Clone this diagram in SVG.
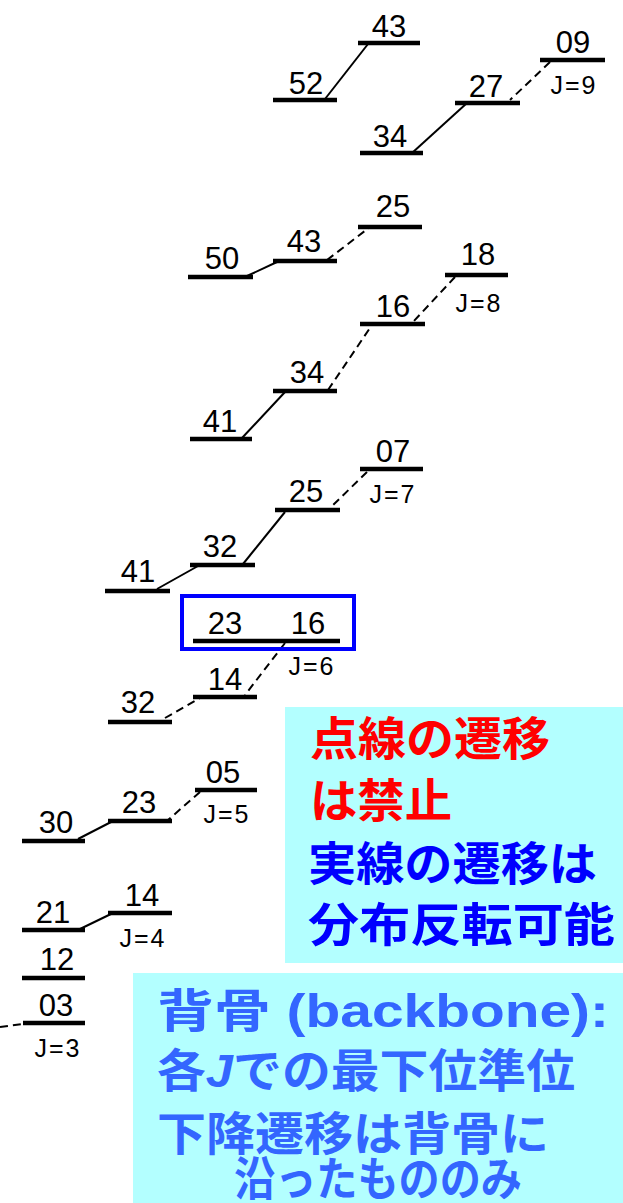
<svg xmlns="http://www.w3.org/2000/svg" width="623" height="1203" viewBox="0 0 623 1203">
<style>
.lv{stroke:#000;stroke-width:4.5;stroke-linecap:butt}
.num{font-family:"Liberation Sans",Arial,sans-serif;font-size:31px;fill:#000;text-anchor:middle}
.jl{font-family:"Liberation Sans",Arial,sans-serif;font-size:25px;fill:#000;text-anchor:middle;letter-spacing:2px}
.sol{stroke:#000;stroke-width:2;fill:none}
.dash{stroke:#000;stroke-width:2;fill:none;stroke-dasharray:8 5}
.note{font-family:"Noto Sans CJK JP","Liberation Sans",sans-serif;font-weight:bold;font-size:46px}
.bb{font-family:"Liberation Sans","Noto Sans CJK JP",sans-serif;font-weight:bold;font-size:46px;fill:#3366ff}
</style>
<rect width="623" height="1203" fill="#fff"/>
<g id="connectors">
<line class="sol" x1="325" y1="99" x2="368" y2="44"/>
<line class="sol" x1="412" y1="153" x2="467" y2="103"/>
<line class="sol" x1="247" y1="276" x2="277" y2="262"/>
<line class="sol" x1="242" y1="438" x2="285" y2="392"/>
<line class="sol" x1="157" y1="589" x2="198" y2="566"/>
<line class="sol" x1="243" y1="564" x2="285" y2="512"/>
<line class="sol" x1="78" y1="839" x2="113" y2="821"/>
<line class="sol" x1="80" y1="929" x2="113" y2="913"/>
<line class="dash" x1="550" y1="62" x2="510" y2="100"/>
<line class="dash" x1="327" y1="260" x2="370" y2="227"/>
<line class="dash" x1="455" y1="277" x2="413" y2="322"/>
<line class="dash" x1="328" y1="390" x2="372" y2="325"/>
<line class="dash" x1="367" y1="472" x2="330" y2="508"/>
<line class="dash" x1="285" y1="643" x2="245" y2="695"/>
<line class="dash" x1="165" y1="718" x2="200" y2="698"/>
<line class="dash" x1="200" y1="792" x2="168" y2="820"/>
<line class="dash" x1="0" y1="1027" x2="23" y2="1024"/>
</g>
<g id="J9">
<g id="L43a"><line class="lv" x1="358" y1="43" x2="420" y2="43"/><text class="num" x="389" y="37">43</text></g>
<g id="L52"><line class="lv" x1="273" y1="100" x2="337" y2="100"/><text class="num" x="306" y="94">52</text></g>
<g id="L09"><line class="lv" x1="540" y1="60" x2="605" y2="60"/><text class="num" x="573" y="53">09</text><text class="jl" x="574" y="94">J=9</text></g>
<g id="L27"><line class="lv" x1="455" y1="103" x2="520" y2="103"/><text class="num" x="486" y="97">27</text></g>
<g id="L34a"><line class="lv" x1="360" y1="153" x2="423" y2="153"/><text class="num" x="390" y="147">34</text></g>
</g>
<g id="J8">
<g id="L25a"><line class="lv" x1="358" y1="227" x2="422" y2="227"/><text class="num" x="393" y="217">25</text></g>
<g id="L43b"><line class="lv" x1="273" y1="261" x2="337" y2="261"/><text class="num" x="304" y="252">43</text></g>
<g id="L50"><line class="lv" x1="188" y1="277" x2="253" y2="277"/><text class="num" x="222" y="269">50</text></g>
<g id="L18"><line class="lv" x1="445" y1="275" x2="508" y2="275"/><text class="num" x="478" y="265">18</text><text class="jl" x="479" y="312">J=8</text></g>
<g id="L16a"><line class="lv" x1="360" y1="324" x2="425" y2="324"/><text class="num" x="393" y="317">16</text></g>
<g id="L34b"><line class="lv" x1="273" y1="391" x2="337" y2="391"/><text class="num" x="307" y="383">34</text></g>
<g id="L41a"><line class="lv" x1="190" y1="439" x2="252" y2="439"/><text class="num" x="220" y="432">41</text></g>
</g>
<g id="J7">
<g id="L07"><line class="lv" x1="360" y1="469" x2="423" y2="469"/><text class="num" x="393" y="462">07</text><text class="jl" x="393" y="503">J=7</text></g>
<g id="L25b"><line class="lv" x1="275" y1="510" x2="340" y2="510"/><text class="num" x="306" y="502">25</text></g>
<g id="L32a"><line class="lv" x1="190" y1="565" x2="255" y2="565"/><text class="num" x="220" y="557">32</text></g>
<g id="L41b"><line class="lv" x1="105" y1="591" x2="170" y2="591"/><text class="num" x="138" y="582">41</text></g>
</g>
<g id="J6">
<g id="L23a"><line class="lv" x1="193" y1="641" x2="276" y2="641"/><text class="num" x="225" y="634">23</text></g>
<g id="L16b"><line class="lv" x1="276" y1="641" x2="340" y2="641"/><text class="num" x="308" y="634">16</text><text class="jl" x="312" y="675">J=6</text></g>
<g id="L14a"><line class="lv" x1="193" y1="697" x2="257" y2="697"/><text class="num" x="225" y="690">14</text></g>
<g id="L32b"><line class="lv" x1="108" y1="722" x2="172" y2="722"/><text class="num" x="138" y="713">32</text></g>
<rect id="highlight" x="182" y="596" width="172" height="53" fill="none" stroke="#0000ff" stroke-width="4"/>
</g>
<g id="J5">
<g id="L05"><line class="lv" x1="195" y1="790" x2="257" y2="790"/><text class="num" x="223" y="783">05</text><text class="jl" x="227" y="823">J=5</text></g>
<g id="L23b"><line class="lv" x1="108" y1="821" x2="172" y2="821"/><text class="num" x="139" y="813">23</text></g>
<g id="L30"><line class="lv" x1="22" y1="841" x2="85" y2="841"/><text class="num" x="56" y="833">30</text></g>
</g>
<g id="J4">
<g id="L14b"><line class="lv" x1="108" y1="913" x2="172" y2="913"/><text class="num" x="142" y="906">14</text><text class="jl" x="143" y="947">J=4</text></g>
<g id="L21"><line class="lv" x1="22" y1="930" x2="85" y2="930"/><text class="num" x="53" y="923">21</text></g>
<g id="L12"><line class="lv" x1="22" y1="978" x2="85" y2="978"/><text class="num" x="57" y="970">12</text></g>
</g>
<g id="J3">
<g id="L03"><line class="lv" x1="23" y1="1023" x2="85" y2="1023"/><text class="num" x="56" y="1016">03</text><text class="jl" x="58" y="1057">J=3</text></g>
</g>
<g id="note1">
<rect x="285" y="707" width="338" height="256" fill="#b3ffff"/>
<text class="note" x="310" y="755" fill="#ff0000" textLength="240" lengthAdjust="spacingAndGlyphs">点線の遷移</text>
<text class="note" x="310" y="817" fill="#ff0000" textLength="142" lengthAdjust="spacingAndGlyphs">は禁止</text>
<text class="note" x="308" y="880" fill="#0000ff" textLength="289" lengthAdjust="spacingAndGlyphs">実線の遷移は</text>
<text class="note" x="308" y="941" fill="#0000ff" textLength="307" lengthAdjust="spacingAndGlyphs">分布反転可能</text>
</g>
<g id="note2">
<rect x="133" y="973" width="490" height="230" fill="#b3ffff"/>
<text class="bb" x="157" y="1027" textLength="452" lengthAdjust="spacingAndGlyphs">背骨 (backbone):</text>
<text class="bb" x="157" y="1087" textLength="418" lengthAdjust="spacingAndGlyphs">各<tspan font-style="italic">J</tspan>での最下位準位</text>
<text class="bb" x="157" y="1150" font-size="44" textLength="392" lengthAdjust="spacingAndGlyphs">下降遷移は背骨に</text>
<text class="bb" x="234" y="1195" font-size="41" textLength="288" lengthAdjust="spacingAndGlyphs">沿ったもののみ</text>
</g>
</svg>
